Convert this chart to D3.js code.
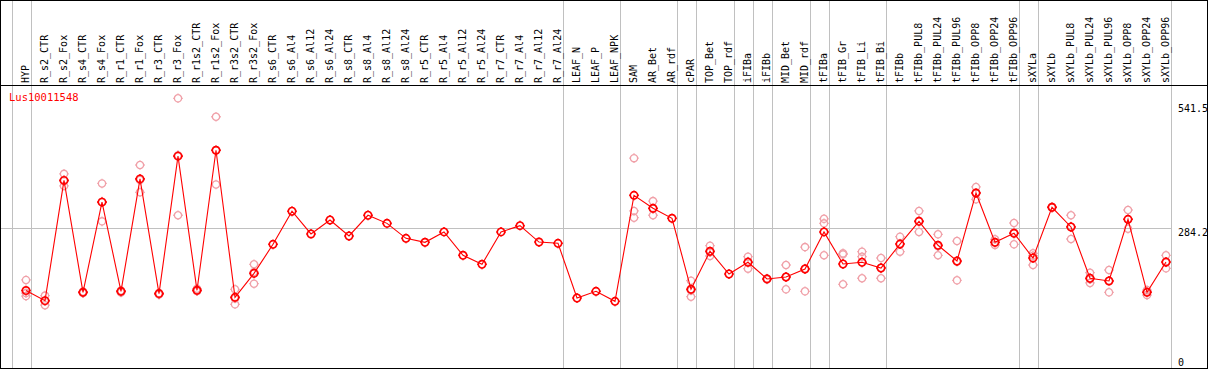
<!DOCTYPE html>
<html>
<head>
<meta charset="utf-8">
<script src="https://cdn.jsdelivr.net/npm/d3@7"></script>
<style>
  body { margin: 0; background: #fff; }
  svg { display: block; }
  text { font-family: "DejaVu Sans Mono", monospace; }
</style>
</head>
<body>
<svg id="chart"></svg>
<script>
var geneName = "Lus10011548";

var samples = ["HYP", "R_s2_CTR", "R_s2_Fox", "R_s4_CTR", "R_s4_Fox", "R_r1_CTR", "R_r1_Fox",
  "R_r3_CTR", "R_r3_Fox", "R_r1s2_CTR", "R_r1s2_Fox", "R_r3s2_CTR", "R_r3s2_Fox", "R_s6_CTR",
  "R_s6_Al4", "R_s6_Al12", "R_s6_Al24", "R_s8_CTR", "R_s8_Al4", "R_s8_Al12", "R_s8_Al24",
  "R_r5_CTR", "R_r5_Al4", "R_r5_Al12", "R_r5_Al24", "R_r7_CTR", "R_r7_Al4", "R_r7_Al12",
  "R_r7_Al24", "LEAF_N", "LEAF_P", "LEAF_NPK", "SAM", "AR_Bet", "AR_rdf", "cPAR", "TOP_Bet",
  "TOP_rdf", "iFIBa", "iFIBb", "MID_Bet", "MID_rdf", "tFIBa", "tFIB_Gr", "tFIB_Li", "tFIB_Bi",
  "tFIBb", "tFIBb_PUL8", "tFIBb_PUL24", "tFIBb_PUL96", "tFIBb_OPP8", "tFIBb_OPP24", "tFIBb_OPP96",
  "sXYLa", "sXYLb", "sXYLb_PUL8", "sXYLb_PUL24", "sXYLb_PUL96", "sXYLb_OPP8", "sXYLb_OPP24",
  "sXYLb_OPP96"];

// mean expression per sample
var means = [161, 141, 379, 157.5, 336, 159.5, 382, 155, 427, 161.5, 438.6, 147.6, 195,
  252.5, 318, 273, 300.6, 269, 310, 294, 264.4, 256.5, 277, 230.8, 213, 277, 289.4, 257,
  254.5, 146.3, 159.5, 139.7, 349.5, 323.8, 304, 163.5, 238.7, 193.8, 217, 184, 187.8,
  203.7, 277, 213.6, 217, 205.6, 253, 298, 250.6, 219.5, 354, 256.5, 274.3, 225.4, 325.8,
  286.8, 185.3, 180, 302, 157.5, 217.5];

// replicate values per sample (empty where none shown)
var replicates = [
  [182, 156, 150], [151, 132, 140], [392, 368, 378], [156, 159, 158], [373, 298, 337],
  [157, 161, 160], [409.5, 355.5, 380], [153, 156, 155], [541.5, 310, 429], [164.7, 160, 160],
  [505, 371, 439], [163.5, 133.8, 145.5], [213, 174.6, 197.7], [], [], [], [], [], [], [], [],
  [], [], [], [], [], [], [], [], [], [], [], [423, 318.5, 305.2], [338, 310, 323],
  [], [180.5, 148.8, 161], [249.8, 229.4, 237], [], [228, 204.3, 218.4], [185, 183, 184],
  [211.6, 163.5, 188.3], [247, 159.5, 204.4], [303, 294, 230.8], [232.7, 173.4, 234.7],
  [238, 228, 185.3], [225.4, 185.3, 206], [267.6, 238, 253.8], [318.5, 277, 299],
  [272.3, 230.8, 248.6], [259, 181.3, 218], [366, 341.6, 354.6], [262.4, 251.2, 256],
  [294.7, 252.5, 275.8], [234.7, 211.6, 230], [326, 325, 327], [310, 263, 287.5],
  [196.3, 176, 183.6], [201.7, 157.5, 180.5], [320.4, 283.4, 302.2], [162, 152, 158.6],
  [230.8, 205, 216.7]];

// last sample of each tissue group
var groupEnds = ["HYP", "R_r7_Al24", "LEAF_NPK", "AR_rdf", "cPAR", "TOP_rdf", "iFIBa", "iFIBb",
  "MID_rdf", "tFIBa", "tFIB_Bi", "tFIBb_OPP96", "sXYLa", "sXYLb_OPP96"];

var yMax = 541.5;
var yMid = 284.2;
var yTicks = [yMax, yMid, 0];

var width = 1209, height = 370;
var svg = d3.select("#chart").attr("width", width).attr("height", height);

var x = d3.scalePoint().domain(samples).range([26, 1166]);
var y = d3.scaleLinear().domain([0, yMax]).range([371.9, 98.3]);
var sepOff = x.step() * 0.24;
var crisp = v => Math.round(v) + 0.5;

// grid: group separators and mid line
svg.append("g").selectAll("line")
    .data([samples[0]].concat(groupEnds))
    .enter().append("line")
    .attr("x1", (d, i) => crisp(i === 0 ? x(d) - x.step() + sepOff : x(d) + sepOff))
    .attr("x2", (d, i) => crisp(i === 0 ? x(d) - x.step() + sepOff : x(d) + sepOff))
    .attr("y1", 0).attr("y2", 368)
    .attr("stroke", "#c0c0c0").attr("stroke-width", 1);

svg.append("line")
    .attr("x1", 1).attr("x2", crisp(x(samples[samples.length - 1]) + sepOff))
    .attr("y1", crisp(y(yMid))).attr("y2", crisp(y(yMid)))
    .attr("stroke", "#c0c0c0");

// frame
svg.append("rect").attr("x", 0.5).attr("y", 0.5).attr("width", 1207).attr("height", 368)
    .attr("fill", "none").attr("stroke", "#000");
svg.append("line").attr("x1", 0).attr("x2", 1208).attr("y1", 85.5).attr("y2", 85.5)
    .attr("stroke", "#000");

// sample labels
svg.append("g").selectAll("text")
    .data(samples)
    .enter().append("text")
    .attr("transform", d => "translate(" + Math.round(x(d) + 3) + ",83) rotate(-90)")
    .attr("font-size", "10px")
    .attr("fill", "#000")
    .text(d => d);

// right axis labels
svg.append("g").selectAll("text")
    .data(yTicks)
    .enter().append("text")
    .attr("x", 1178)
    .attr("y", (d, i) => i === 0 ? 112 : i === 1 ? 236 : 366)
    .attr("font-size", "10px")
    .attr("fill", "#000")
    .text(d => d);

svg.append("text").attr("x", 9).attr("y", 101).attr("font-size", "10.5px")
    .attr("fill", "#ff0000").text(geneName);

// marker: small circle with four stubs
function marker(r) {
  var p = d3.path();
  p.moveTo(r, 0); p.arc(0, 0, r, 0, 2 * Math.PI);
  p.moveTo(0, -r); p.lineTo(0, -r - 1.2);
  p.moveTo(0, r); p.lineTo(0, r + 1.2);
  p.moveTo(-r, 0); p.lineTo(-r - 1.2, 0);
  p.moveTo(r, 0); p.lineTo(r + 1.2, 0);
  return p.toString();
}

var repPoints = [];
replicates.forEach((reps, i) => reps.forEach(v => repPoints.push({ s: samples[i], v: v })));

svg.append("g").selectAll("path")
    .data(repPoints)
    .enter().append("path")
    .attr("d", marker(3.6))
    .attr("transform", d => "translate(" + x(d.s) + "," + y(d.v) + ")")
    .attr("fill", "none").attr("stroke", "#f0a0a8").attr("stroke-width", 1.3);

var line = d3.line().x((d, i) => x(samples[i])).y(d => y(d));
svg.append("path").datum(means)
    .attr("d", line)
    .attr("fill", "none").attr("stroke", "#ff0000").attr("stroke-width", 1.1);

svg.append("g").selectAll("path")
    .data(means)
    .enter().append("path")
    .attr("d", marker(3.7))
    .attr("transform", (d, i) => "translate(" + x(samples[i]) + "," + y(d) + ")")
    .attr("fill", "none").attr("stroke", "#ff0000").attr("stroke-width", 1.6);
</script>
</body>
</html>
